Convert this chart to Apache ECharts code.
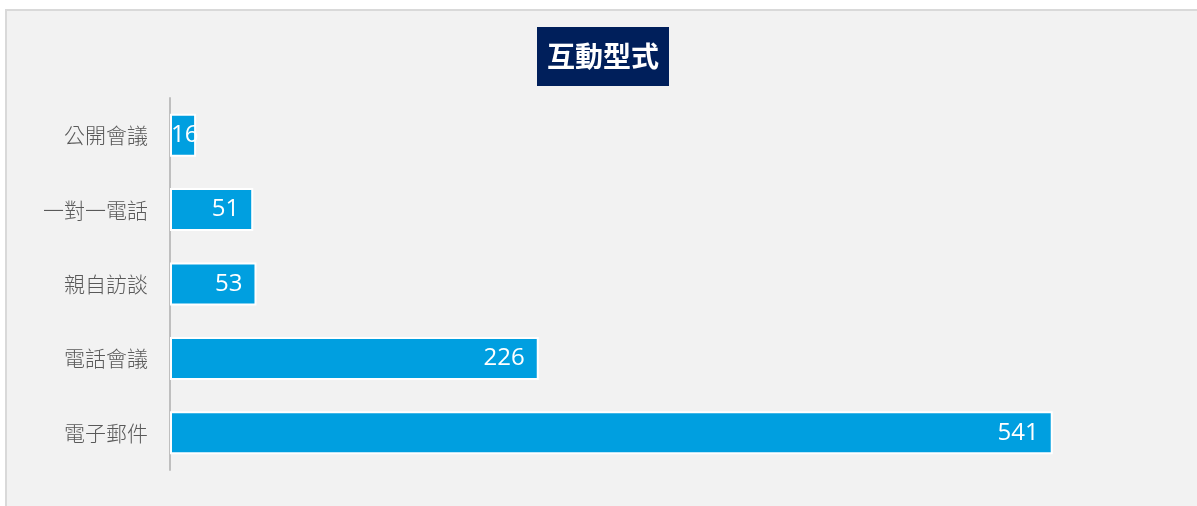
<!DOCTYPE html>
<html>
<head>
<meta charset="utf-8">
<script src="https://cdn.jsdelivr.net/npm/echarts@6/dist/echarts.min.js"></script>
<style>
html,body{margin:0;padding:0;background:#ffffff;}
#chart{width:1197px;height:506px;}
</style>
</head>
<body>
<div id="chart"></div>
<script>
const titleText = '互動型式';
const categories = ['電子郵件', '電話會議', '親自訪談', '一對一電話', '公開會議'];
const values = [541, 226, 53, 51, 16];

const chart = echarts.init(document.getElementById('chart'));
const seriesData = values.map(function (v, i) {
  if (v < 30) {
    return { value: v, label: { position: 'insideLeft', distance: 1 } };
  }
  return v;
});

chart.setOption({
  backgroundColor: '#ffffff',
  animation: false,
  graphic: [{
    type: 'rect',
    z: -10,
    silent: true,
    shape: { x: 6, y: 10, width: 1200, height: 500 },
    style: { fill: '#f2f2f2', stroke: '#d9d9d9', lineWidth: 2 }
  }],
  title: {
    text: titleText,
    left: 537,
    top: 27,
    padding: [15, 10],
    backgroundColor: '#001f5b',
    textStyle: {
      color: '#ffffff',
      fontSize: 28,
      lineHeight: 29,
      fontWeight: 'bold',
      fontFamily: '"Noto Sans CJK TC", "Noto Sans", sans-serif'
    }
  },
  grid: { left: 170, right: 48, top: 98, bottom: 36, containLabel: false },
  xAxis: {
    type: 'value',
    min: 0,
    max: 600,
    show: false,
    splitLine: { show: false }
  },
  yAxis: {
    type: 'category',
    data: categories,
    axisLine: { show: true, lineStyle: { color: '#bfbfbf', width: 2 } },
    axisTick: { show: false },
    axisLabel: {
      color: '#595959',
      fontSize: 21,
      fontWeight: 300,
      margin: 22,
      fontFamily: '"Noto Sans CJK TC", "Noto Sans", sans-serif'
    }
  },
  series: [{
    type: 'bar',
    data: seriesData,
    barWidth: 43,
    itemStyle: { color: '#009fe0', borderColor: '#ffffff', borderWidth: 2 },
    label: {
      show: true,
      position: 'insideRight',
      distance: 14,
      color: '#ffffff',
      fontSize: 24,
      fontFamily: '"Open Sans", "Noto Sans", sans-serif'
    }
  }]
});
</script>
</body>
</html>
